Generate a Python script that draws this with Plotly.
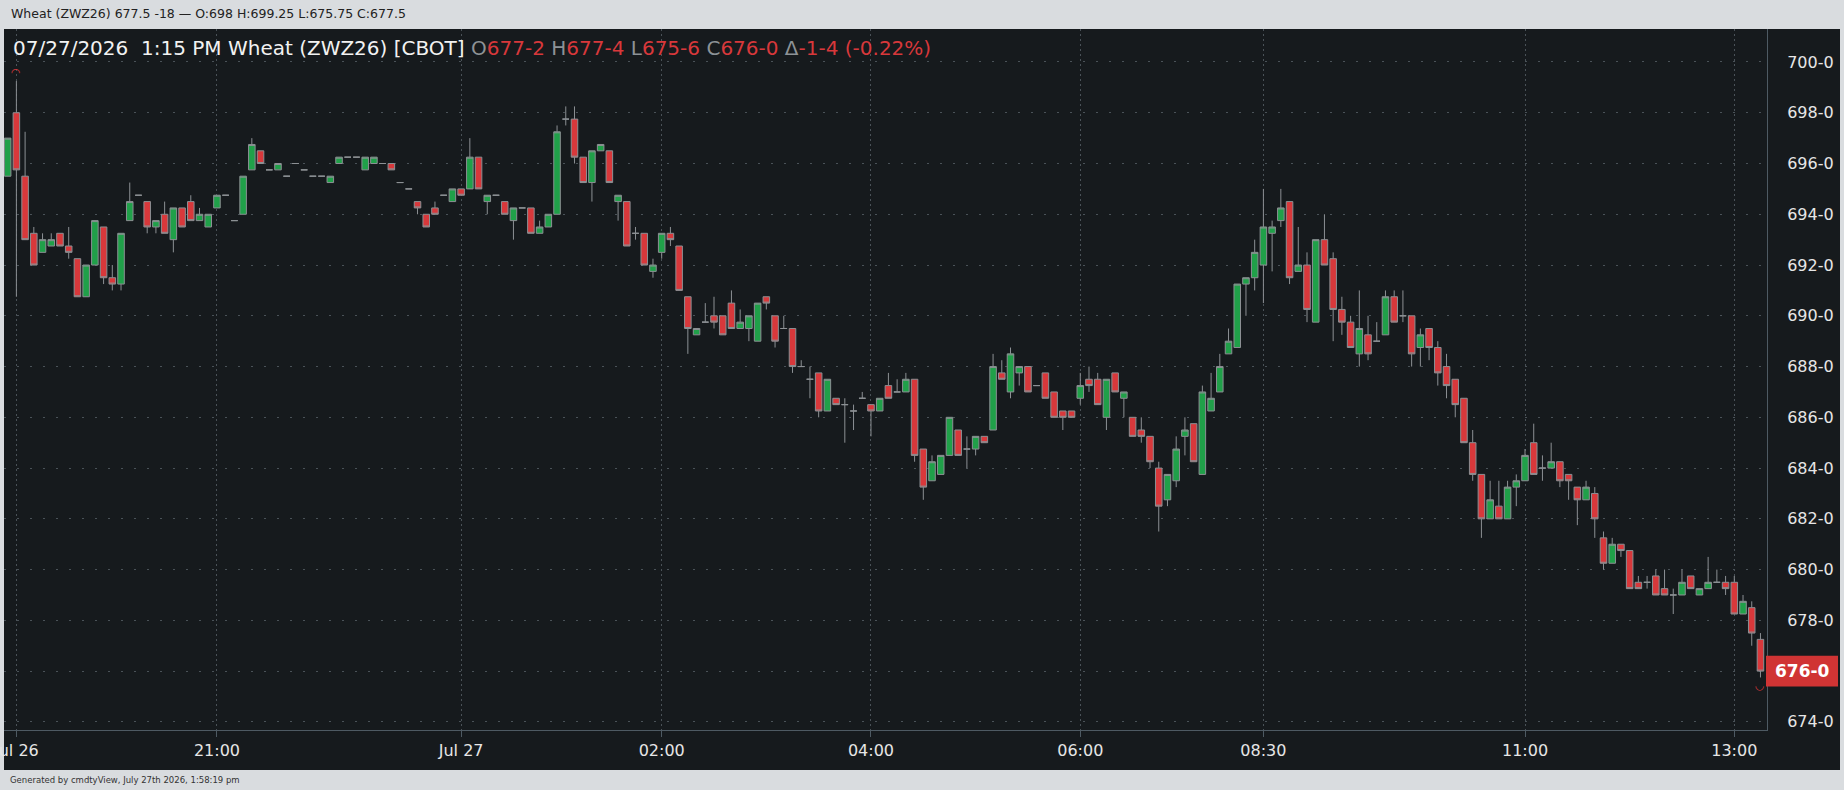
import plotly.graph_objects as go

# ---------------- data (5-minute bars, ZWZ26) ----------------
opens = [695.5, 698, 695.5, 693.25, 692.5, 692.75, 693.25, 692.75, 692.25, 690.75,
         692, 693.5, 691.5, 691.25, 693.75, 694.75, 694.5, 693.5, 694, 693,
         694.25, 694.5, 693.75, 693.5, 694.25, 694.75, 693.75, 694, 695.75, 696.5,
         695.75, 695.75, 695.5, 696, 695.75, 695.5, 695.5, 695.25, 696, 696.25,
         696.25, 695.75, 696, 696, 696, 695.25, 695, 694.5, 694, 694.25,
         694.75, 694.5, 695, 695, 696.25, 694.5, 694.75, 694.5, 693.75, 694.25,
         694.25, 693.25, 693.5, 694, 697.75, 697.75, 696.25, 695.25, 696.5, 696.5,
         694.5, 694.5, 693.25, 693.25, 691.75, 692.5, 693.25, 692.75, 690.75, 689.25,
         689.75, 690, 690, 690.5, 689.5, 689.5, 689, 690.75, 690, 689.5,
         689.5, 688, 687.5, 687.75, 686.25, 686.75, 686.5, 686.25, 686.75, 686.5,
         686.25, 687.25, 687, 687, 687.5, 684.75, 683.5, 683.75, 684.5, 685.5,
         684.75, 684.75, 685.25, 685.5, 687.75, 687, 687.75, 688, 687.25, 687.75,
         687, 686.25, 686.25, 686.75, 687.5, 687.5, 686, 687.75, 686.75, 686,
         685.5, 685.25, 684, 682.75, 683.5, 685.25, 685.75, 683.75, 686.25, 687,
         688.5, 688.75, 691.25, 691.5, 692, 693.25, 693.75, 694.5, 691.75, 692,
         689.75, 693, 692.25, 690.25, 689.75, 688.5, 689.25, 689, 689.25, 690.75,
         690, 690, 688.75, 689.5, 688.75, 688, 687.5, 686.75, 685, 683.75,
         682, 682.5, 682, 683.25, 683.5, 685, 684, 684, 684.25, 683.75,
         683.25, 682.75, 683, 681.25, 680.25, 681, 680.75, 679.5, 679.5, 679.75,
         679.25, 679, 679, 679.75, 679, 679.25, 679.5, 679.5, 679.5, 678.25,
         678.5, 677.25]
highs = [697, 699.25, 697.25, 693.5, 693.25, 693.25, 693.25, 693.5, 692.25, 692,
         693.75, 693.5, 692, 693.25, 695.25, 694.75, 694.5, 693.75, 694.5, 694.25,
         694.25, 694.75, 694.25, 694, 694.75, 694.75, 693.75, 695.5, 697, 696.5,
         695.75, 696, 695.5, 696, 695.75, 695.5, 695.5, 695.5, 696.25, 696.25,
         696.25, 696.25, 696.25, 696, 696, 695.25, 695, 694.5, 694, 694.5,
         694.75, 695, 695, 697, 696.25, 694.75, 694.75, 694.5, 694.25, 694.25,
         694.25, 693.75, 694, 697.5, 698.25, 698.25, 696.25, 696.5, 696.75, 696.5,
         694.75, 694.5, 693.5, 693.25, 692.25, 693.25, 693.5, 692.75, 690.75, 689.5,
         690.5, 690.75, 690, 691, 690.25, 690, 690.5, 690.75, 690, 690,
         689.5, 688.25, 688, 687.75, 687.5, 686.75, 686.75, 686.5, 687, 686.5,
         686.75, 687.75, 687.5, 687.75, 687.5, 684.75, 684.5, 684.5, 686, 685.5,
         685.25, 685.25, 685.25, 688.5, 688.25, 688.75, 688, 688, 687.25, 687.75,
         687, 686.25, 686.25, 687.75, 688, 687.75, 687.5, 687.75, 687, 686,
         686, 685.25, 684.25, 683.75, 685.25, 686, 685.75, 687.25, 687.75, 688.5,
         689.5, 691.25, 691.5, 693, 695, 693.75, 695, 694.5, 693.5, 692.5,
         693, 694, 692.5, 690.75, 690, 691, 690, 689.75, 691, 691,
         691, 690, 689.5, 689.5, 689, 688.5, 687.5, 686.75, 685.5, 683.75,
         683.5, 683.5, 683.5, 683.75, 684.75, 685.75, 684.5, 685, 684.25, 683.75,
         683.25, 683.5, 683.25, 681.5, 681.25, 681, 680.75, 679.75, 679.75, 680,
         680, 679.25, 680, 679.75, 679.25, 680.5, 680, 679.75, 679.75, 679,
         678.75, 677.5]
lows = [695.5, 690.75, 693, 692, 692.5, 692.75, 692.75, 692.25, 690.75, 690.75,
        692, 691.25, 691, 691, 693.75, 694.75, 693.25, 693.25, 693.25, 692.5,
        693.5, 693.75, 693.75, 693.5, 694.25, 694.75, 693.75, 694, 695.75, 696,
        695.75, 695.75, 695.5, 696, 695.75, 695.5, 695.5, 695.25, 696, 696.25,
        696.25, 695.75, 696, 696, 695.75, 695.25, 695, 694, 693.5, 694,
        694.75, 694.5, 694.75, 695, 695, 694, 694.75, 694, 693, 694.25,
        693.25, 693.25, 693.5, 694, 697.5, 696, 695.25, 694.5, 696.5, 695.25,
        693.75, 692.75, 693, 692, 691.5, 692.25, 692.75, 691, 688.5, 689.25,
        689.75, 689.5, 689.25, 689.5, 689.5, 689, 689, 690.25, 688.75, 689.5,
        687.75, 688, 686.75, 686, 686.25, 686.5, 685, 685.5, 686.75, 685.25,
        686.25, 686.75, 687, 687, 684.25, 682.75, 683.5, 683.75, 684.5, 684.5,
        684, 684.5, 685, 685.5, 687.5, 686.75, 687.25, 687, 687.25, 686.75,
        686, 685.5, 686, 686.5, 687, 686.5, 685.5, 687, 686, 685.25,
        685, 684, 681.5, 682.5, 683.25, 684.5, 684.25, 683.75, 686.25, 687,
        688.5, 688.75, 690, 691, 690.5, 691.75, 693.5, 691.25, 691.75, 689.75,
        689.75, 692, 689, 689.25, 688.75, 688, 688.25, 689, 689.25, 689.75,
        689.75, 688, 688, 688.25, 687.25, 686.75, 686, 685, 683.5, 681.25,
        682, 682, 682, 682.5, 683.5, 683.75, 683.5, 684, 683.25, 682.75,
        681.75, 682.75, 681.25, 680, 680.25, 680.5, 679.25, 679.25, 679.25, 679,
        679, 678.25, 679, 679.25, 679, 679.25, 679.5, 679, 678.25, 678.25,
        677, 675.75]
closes = [697, 695.75, 693, 692, 693, 693, 692.75, 692.5, 690.75, 692,
          693.75, 691.5, 691.25, 693.25, 694.5, 694.75, 693.5, 693.75, 693.25, 694.25,
          693.5, 693.75, 694, 694, 694.75, 694.75, 693.75, 695.5, 696.75, 696,
          695.75, 696, 695.5, 696, 695.75, 695.5, 695.5, 695.5, 696.25, 696.25,
          696.25, 696.25, 696.25, 696, 695.75, 695.25, 695, 694.25, 693.5, 694,
          694.75, 695, 694.75, 696.25, 695, 694.75, 694.75, 694, 694.25, 694.25,
          693.25, 693.5, 694, 697.25, 697.75, 696.25, 695.25, 696.5, 696.75, 695.25,
          694.75, 692.75, 693.25, 692, 692, 693.25, 693, 691, 689.5, 689.5,
          689.75, 689.75, 689.25, 689.5, 689.75, 690, 690.5, 690.5, 689, 689.5,
          688, 688, 687.5, 686.25, 687.5, 686.5, 686.5, 686.25, 686.75, 686.25,
          686.75, 686.75, 687, 687.5, 684.5, 683.25, 684.25, 684.5, 686, 684.5,
          684.75, 685.25, 685, 688, 687.5, 688.5, 688, 687, 687.25, 686.75,
          686, 686, 686, 687.25, 687.25, 686.5, 687.5, 687, 687, 685.25,
          685.25, 684.25, 682.5, 683.75, 684.75, 685.5, 684.25, 687, 686.75, 688,
          689, 691.25, 691.5, 692.5, 693.5, 693.5, 694.25, 691.5, 692, 690.25,
          693, 692, 690.25, 689.75, 688.75, 689.5, 688.5, 689, 690.75, 689.75,
          690, 688.5, 689.25, 688.75, 687.75, 687.25, 686.5, 685, 683.75, 682,
          682.75, 682, 683.25, 683.5, 684.5, 683.75, 684, 684.25, 683.5, 683.5,
          682.75, 683.25, 682, 680.25, 681, 680.75, 679.25, 679.25, 679.5, 679,
          679, 679, 679.5, 679.25, 679.25, 679.5, 679.5, 679.25, 678.25, 678.75,
          677.5, 676]

tick_bar_index = [1, 24, 52, 75, 99, 123, 144, 174, 198]
tick_labels = ["Jul 26", "21:00", "Jul 27", "02:00", "04:00", "06:00", "08:30", "11:00", "13:00"]
price_ticks = [674, 676, 678, 680, 682, 684, 686, 688, 690, 692, 694, 696, 698, 700]

title_line = "Wheat (ZWZ26) 677.5 -18 \u2014 O:698 H:699.25 L:675.75 C:677.5"
header_main = "07/27/2026\u00a0 1:15 PM Wheat (ZWZ26) [CBOT]"
footer_text = "Generated by cmdtyView, July 27th 2026, 1:58:19 pm"

# ---------------- styling ----------------
W, H = 1844, 790
ML, MR, MT, MB = 4, 77, 29, 60
PW, PH = W - ML - MR, H - MT - MB
DARK = "#161a1d"
LIGHT = "#d9dcdf"
GREEN = "#20a049"
RED = "#d8383b"
WICK = "#8c9094"
GRID = "#4a5258"
AXIS = "#4e5a63"
TXT = "#e6e6e6"
FONT = "DejaVu Sans"


def px(x):
    return (x - ML) / PW


def py(y):
    return (H - MB - y) / PH


def fmt(p):
    w = int(p)
    return f"{w}-{int(round((p - w) * 8))}"


idx = list(range(len(closes)))
last_o, last_h, last_l, last_c = opens[-1], highs[-1], lows[-1], closes[-1]

# the last-price box on the price scale covers the tick label it sits on
price_ticktext = ["" if abs(v - last_c) < 0.6 else fmt(v) for v in price_ticks]

fig = go.Figure(go.Candlestick(
    x=idx, open=opens, high=highs, low=lows, close=closes,
    increasing=dict(fillcolor=GREEN, line=dict(color=WICK, width=1)),
    decreasing=dict(fillcolor=RED, line=dict(color=WICK, width=1)),
    whiskerwidth=0, hoverinfo="skip", showlegend=False,
))

chg = last_c - closes[-2]
pct = chg / closes[-2] * 100
chg_txt = ("-" if chg < 0 else "") + fmt(abs(chg))
g = "#8d9296"
header = (f"<span style='color:#f2f2f2'>{header_main}</span> "
          f"<span style='color:{g}'>O</span><span style='color:{RED}'>{fmt(last_o)}</span> "
          f"<span style='color:{g}'>H</span><span style='color:{RED}'>{fmt(last_h)}</span> "
          f"<span style='color:{g}'>L</span><span style='color:{RED}'>{fmt(last_l)}</span> "
          f"<span style='color:{g}'>C</span><span style='color:{RED}'>{fmt(last_c)}</span> "
          f"<span style='color:{g}'>\u0394</span><span style='color:{RED}'>{chg_txt} ({pct:.2f}%)</span>")

hi_i = max(idx, key=lambda i: highs[i])
lo_i = min(idx, key=lambda i: lows[i])

fig.update_layout(
    width=W, height=H,
    margin=dict(l=ML, r=MR, t=MT, b=MB, autoexpand=False),
    paper_bgcolor=LIGHT, plot_bgcolor=DARK,
    boxgap=0.25, boxgroupgap=0,
    xaxis=dict(
        range=[-0.42, 201.75], rangeslider=dict(visible=False),
        tickmode="array", tickvals=tick_bar_index, ticktext=tick_labels,
        showgrid=True, gridcolor=GRID, griddash="2px,3px", gridwidth=1,
        zeroline=False, showline=True, linecolor=AXIS, linewidth=1,
        ticks="outside", ticklen=6, tickcolor=AXIS,
        ticklabeloverflow="allow", automargin=False,
        tickfont=dict(family=FONT, size=16, color=TXT),
        fixedrange=True,
    ),
    yaxis=dict(
        range=[673.68, 701.30], side="right",
        tickmode="array", tickvals=price_ticks, ticktext=price_ticktext,
        showgrid=True, gridcolor=GRID, griddash="2px,11px", gridwidth=1,
        zeroline=False, showline=True, linecolor=AXIS, linewidth=1,
        ticks="", ticklabelstandoff=16, automargin=False,
        tickfont=dict(family=FONT, size=16, color=TXT),
        fixedrange=True,
    ),
    shapes=[
        dict(type="rect", xref="paper", yref="paper", x0=px(4), x1=px(1840),
             y0=py(770), y1=py(29), fillcolor=DARK, line=dict(width=0), layer="below"),
        dict(type="rect", xref="paper", yref="y", x0=px(1766), x1=px(1838),
             y0=last_c - 0.61, y1=last_c + 0.61, fillcolor="#d03434",
             line=dict(width=0), layer="above"),
    ],
    annotations=[
        dict(xref="paper", yref="paper", x=px(9), y=py(14), xanchor="left", yanchor="middle",
             text=title_line, showarrow=False, font=dict(family=FONT, size=12.5, color="#222222")),
        dict(xref="paper", yref="paper", x=px(11), y=py(48), xanchor="left", yanchor="middle",
             text=header, showarrow=False, font=dict(family=FONT, size=20, color="#f2f2f2")),
        dict(xref="paper", yref="paper", x=px(8), y=py(780), xanchor="left", yanchor="middle",
             text=footer_text, showarrow=False, font=dict(family=FONT, size=8.5, color="#333333")),
        dict(xref="paper", yref="y", x=px(1802), y=last_c, xanchor="center", yanchor="middle",
             text=f"<b>{fmt(last_c)}</b>", showarrow=False,
             font=dict(family=FONT, size=17, color="#ffffff")),
        dict(x=hi_i, y=highs[hi_i], xref="x", yref="y", text="\u25e0", showarrow=False,
             yanchor="bottom", yshift=0, font=dict(family=FONT, size=11, color=RED)),
        dict(x=lo_i, y=lows[lo_i], xref="x", yref="y", text="\u25e1", showarrow=False,
             yanchor="top", yshift=0, font=dict(family=FONT, size=11, color=RED)),
    ],
)

fig.write_html("out.html")
